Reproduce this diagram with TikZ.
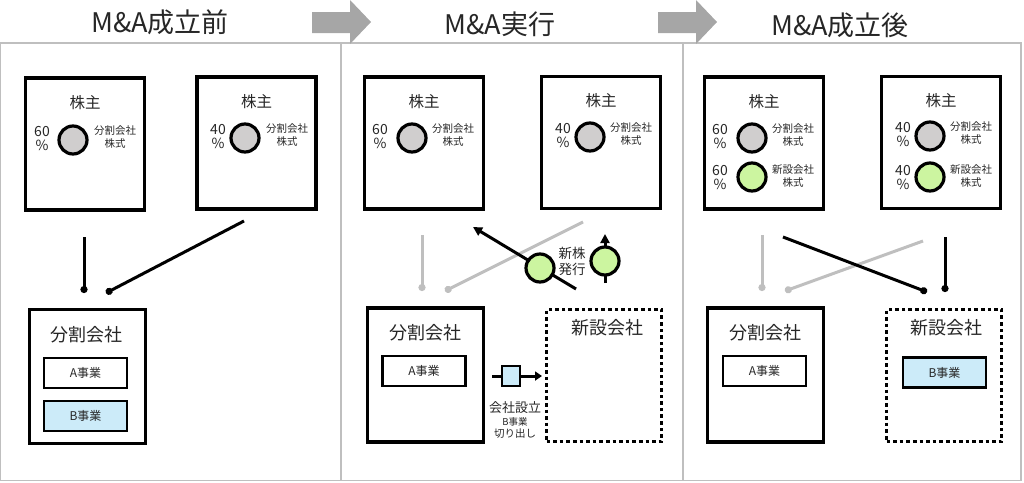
\documentclass[tikz,border=0pt]{standalone}
\usepackage{fontspec}
\setmainfont{Noto Sans CJK JP}
\usetikzlibrary{arrows.meta}
\definecolor{panelgray}{HTML}{BFBFBF}
\definecolor{arrowgray}{HTML}{A6A6A6}
\definecolor{sharegray}{HTML}{D0CECE}
\definecolor{sharegreen}{HTML}{CCF5A0}
\definecolor{bizblue}{HTML}{CCEBF9}
\definecolor{linegray}{HTML}{BFBFBF}
\definecolor{txt}{HTML}{262626}
\tikzset{
  panel/.style={draw=panelgray,line width=1.2pt},
  shbox/.style={draw=black,line width=3.6pt,minimum width=119pt,minimum height=132pt,inner sep=0pt},
  cobox/.style={draw=black,line width=3.6pt,minimum width=116pt,minimum height=134pt,inner sep=0pt},
  newco/.style={draw=black,line width=3.6pt,dash pattern=on 3.6pt off 3pt,minimum width=115pt,minimum height=132pt,inner sep=0pt},
  bizbox/.style={draw=black,line width=2.6pt,minimum width=83pt,minimum height=30pt,inner sep=0pt,font=\fontsize{12}{13}\selectfont,text=txt},
  share/.style={circle,draw=black,line width=3.2pt,minimum size=28pt,inner sep=0pt},
  title/.style={font=\fontsize{27}{30}\selectfont,text=txt},
  holder/.style={font=\fontsize{15.5}{17}\selectfont,text=txt},
  coname/.style={font=\fontsize{18}{20}\selectfont,text=txt},
  pct/.style={font=\fontsize{14}{16}\selectfont,align=center,text=txt},
  slabel/.style={font=\fontsize{10.5}{13}\selectfont,align=center,text=txt},
  conn/.style={line width=3pt,draw=black},
  gconn/.style={line width=3pt,draw=linegray},
  dotend/.style={-{Circle[length=7pt]}},
  arr/.style={-{Triangle[length=9pt,width=9pt]}},
}
\begin{document}
\begin{tikzpicture}[x=1pt,y=-1pt]
\useasboundingbox (0,0) rectangle (1024,482);
% panels
\draw[panel] (0.6,43) rectangle (341,480.5);
\draw[panel] (341,43) rectangle (683,480.5);
\draw[panel] (683,43) rectangle (1021,480.5);
% gray arrows
\fill[arrowgray] (312,12) -- (350,12) -- (350,0) -- (371,22) -- (350,44) -- (350,33) -- (312,33) -- cycle;
\fill[arrowgray] (658,12) -- (696,12) -- (696,0) -- (717,22) -- (696,44) -- (696,33) -- (658,33) -- cycle;
% titles
\node[title] (t1) at (160,22) {M\&A成立前};
\node[title] (t2) at (500,24) {M\&A実行};
\node[title] (t3) at (840,25) {M\&A成立後};

% ===== Panel 1 =====
\node[shbox] (s1) at (85,144) {};
\node[shbox] (s2) at (256.5,143) {};
\node[holder] (h1) at (85,103) {株主};
\node[holder] (h2) at (256.5,102) {株主};
\node[share,fill=sharegray] (c1) at (73,140) {};
\node[share,fill=sharegray] (c2) at (245,138) {};
\node[pct] (p1) at (42,139) {60\\[-2pt]\%};
\node[pct] (p2) at (218,137) {40\\[-2pt]\%};
\node[slabel] (l1) at (115,137) {分割会社\\株式};
\node[slabel] (l2) at (287,135) {分割会社\\株式};

\node[cobox] (k1) at (87.5,376.5) {};
\node[coname] (kn1) at (86,335) {分割会社};
\node[bizbox] (a1) at (85.5,373) {A事業};
\node[bizbox,fill=bizblue] (b1) at (85.5,416) {B事業};

\coordinate (q1a) at (84,237);
\coordinate (q1b) at (84,293);
\coordinate (q2a) at (244,221);
\coordinate (q2b) at (106,293);
\draw[conn,dotend] (q1a) -- (q1b);
\draw[conn,dotend] (q2a) -- (q2b);

% ===== Panel 2 =====
\node[shbox] (s3) at (424,143) {};
\node[shbox] (s4) at (601,142.5) {};
\node[holder] (h3) at (424,102) {株主};
\node[holder] (h4) at (601,101) {株主};
\node[share,fill=sharegray] (c3) at (412,138) {};
\node[share,fill=sharegray] (c4) at (590,137) {};
\node[pct] (p3) at (380,137) {60\\[-2pt]\%};
\node[pct] (p4) at (563,136) {40\\[-2pt]\%};
\node[slabel] (l3) at (453,135) {分割会社\\株式};
\node[slabel] (l4) at (631,134) {分割会社\\株式};

\coordinate (r1a) at (422,235);
\coordinate (r1b) at (422,291);
\coordinate (r2a) at (583,222);
\coordinate (r2b) at (445,291);
\draw[gconn,dotend] (r1a) -- (r1b);
\draw[gconn,dotend] (r2a) -- (r2b);
\coordinate (r3a) at (576,289);
\coordinate (r3b) at (473,227);
\draw[conn,arr] (r3a) -- (r3b);
\node[share,fill=sharegreen] (g1) at (540,268) {};
\node[slabel,font=\fontsize{13.5}{16}\selectfont] (ns) at (572,261) {新株\\発行};
\coordinate (r4a) at (605,283);
\coordinate (r4b) at (605,234);
\draw[conn,arr] (r4a) -- (r4b);
\node[share,fill=sharegreen] (g2) at (605,261) {};

\node[cobox] (k2) at (425.5,375) {};
\node[coname] (kn2) at (425,333) {分割会社};
\node[bizbox] (a2) at (424,371) {A事業};
\node[newco] (n2) at (604,375.5) {};
\node[coname] (nn2) at (607,328) {新設会社};

\coordinate (m1) at (492,376);
\node[draw=black,line width=2.8pt,fill=bizblue,minimum width=18pt,minimum height=20pt,inner sep=0pt] (sq) at (511,376) {};
\coordinate (m2) at (542,376);
\draw[conn] (m1) -- (sq.west);
\draw[conn,-{Triangle[length=7pt,width=9pt]}] (sq.east) -- (m2);
\node[font=\fontsize{13}{14}\selectfont,text=txt] (cs) at (515,408) {会社設立};
\node[font=\fontsize{9.5}{12}\selectfont,text=txt] (cb) at (515,422) {B事業};
\node[font=\fontsize{10.5}{12}\selectfont,text=txt] (ck) at (515,434) {切り出し};

% ===== Panel 3 =====
\node[shbox] (s5) at (764,143) {};
\node[shbox] (s6) at (941,142.5) {};
\node[holder] (h5) at (764,102) {株主};
\node[holder] (h6) at (941,101) {株主};
\node[share,fill=sharegray] (c5) at (752,138) {};
\node[share,fill=sharegray] (c6) at (930,136) {};
\node[share,fill=sharegreen] (c7) at (752,177) {};
\node[share,fill=sharegreen] (c8) at (930,177) {};
\node[pct] (p5) at (720,137) {60\\[-2pt]\%};
\node[pct] (p6) at (903,135) {40\\[-2pt]\%};
\node[pct] (p7) at (720,178) {60\\[-2pt]\%};
\node[pct] (p8) at (903,178) {40\\[-2pt]\%};
\node[slabel] (l5) at (793,135) {分割会社\\株式};
\node[slabel] (l6) at (971,133) {分割会社\\株式};
\node[slabel] (l7) at (793,176) {新設会社\\株式};
\node[slabel] (l8) at (971,176) {新設会社\\株式};

\coordinate (u1a) at (762,235);
\coordinate (u1b) at (762,291);
\coordinate (u2a) at (923,241);
\coordinate (u2b) at (785,291);
\draw[gconn,dotend] (u1a) -- (u1b);
\draw[gconn,dotend] (u2a) -- (u2b);
\coordinate (u3a) at (783,237);
\coordinate (u3b) at (927,292);
\coordinate (u4a) at (945,237);
\coordinate (u4b) at (945,292);
\draw[conn,dotend] (u3a) -- (u3b);
\draw[conn,dotend] (u4a) -- (u4b);

\node[cobox] (k3) at (765.5,375) {};
\node[coname] (kn3) at (765,333) {分割会社};
\node[bizbox] (a3) at (764.5,371) {A事業};
\node[newco] (n3) at (944,375.5) {};
\node[coname] (nn3) at (946,328) {新設会社};
\node[bizbox,fill=bizblue] (b3) at (944.5,372.5) {B事業};
\end{tikzpicture}
\end{document}
